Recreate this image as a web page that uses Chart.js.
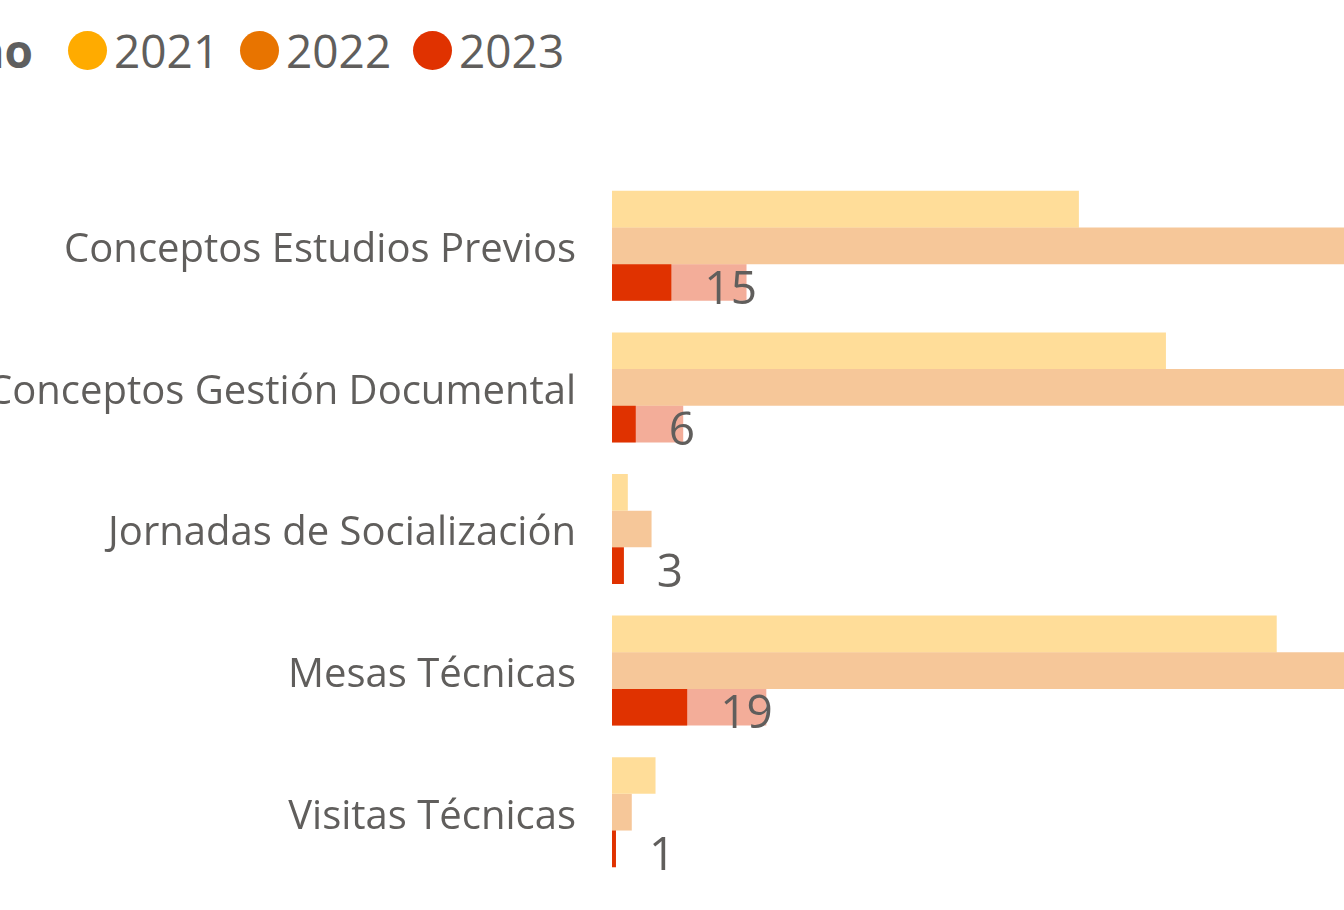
<!DOCTYPE html>
<html>
<head>
<meta charset="utf-8">
<script src="https://cdn.jsdelivr.net/npm/chart.js@4"></script>
<style>
  html, body { margin: 0; padding: 0; background: #fff; overflow: hidden; }
  body { width: 1344px; height: 910px; position: relative; font-family: "Open Sans", sans-serif; color: #605E5C; }
  #leyenda { position: absolute; top: 20px; left: 0; height: 60px; width: 1344px; }
  #leyenda .titulo { position: absolute; left: -100px; width: 133px; text-align: right; font-weight: bold; font-size: 46px; line-height: 60px; color: #5f5f5f; }
  #leyenda .item { position: absolute; top: 0; display: flex; align-items: center; height: 60px; font-size: 46px; }
  #leyenda .dot { width: 39px; height: 39px; border-radius: 50%; margin-right: 7px; }
  #grafico { position: absolute; left: 0; top: 0; }
</style>
</head>
<body>
<div id="leyenda"><span class="titulo">Año</span></div>
<canvas id="grafico" width="1344" height="910"></canvas>
<script>
const categorias = [
  "Conceptos Estudios Previos",
  "Conceptos Gestión Documental",
  "Jornadas de Socialización",
  "Mesas Técnicas",
  "Visitas Técnicas"
];
const anios = ["2021", "2022", "2023"];
const colores = ["#FFAB00", "#E87400", "#E03200"];

const valores2021 = [118, 140, 4, 168, 11];
const valores2022 = [210, 205, 10, 230, 5];
const valores2023 = [34, 18, 3, 39, 1];
// parte resaltada de 2023 (la que lleva etiqueta)
const resaltado2023 = [15, 6, 3, 19, 1];

const ejeMax = 185;

function tenue(hex) {
  const r = parseInt(hex.slice(1, 3), 16);
  const g = parseInt(hex.slice(3, 5), 16);
  const b = parseInt(hex.slice(5, 7), 16);
  return `rgba(${r},${g},${b},0.4)`;
}

// leyenda html
const leyenda = document.getElementById("leyenda");
const posiciones = [68, 240, 413];
anios.forEach((a, i) => {
  const it = document.createElement("div");
  it.className = "item";
  it.style.left = posiciones[i] + "px";
  it.innerHTML = `<span class="dot" style="background:${colores[i]}"></span><span>${a}</span>`;
  leyenda.appendChild(it);
});

const etiquetas = {
  id: "etiquetas",
  afterDatasetsDraw(chart) {
    const meta = chart.getDatasetMeta(2);
    const ctx = chart.ctx;
    ctx.save();
    ctx.font = "46px 'Open Sans'";
    ctx.fillStyle = "#605E5C";
    ctx.textAlign = "left";
    ctx.textBaseline = "middle";
    meta.data.forEach((bar, i) => {
      ctx.fillText(resaltado2023[i], bar.x + 33, bar.y + 8);
    });
    ctx.restore();
  }
};

new Chart(document.getElementById("grafico"), {
  type: "bar",
  data: {
    labels: categorias,
    datasets: [
      { label: "2021", data: valores2021, backgroundColor: tenue(colores[0]), stack: "a" },
      { label: "2022", data: valores2022, backgroundColor: tenue(colores[1]), stack: "b" },
      // resaltado antes del total para que se dibuje encima
      { label: "2023 sel", data: resaltado2023, backgroundColor: colores[2], stack: "c" },
      { label: "2023", data: valores2023, backgroundColor: tenue(colores[2]), stack: "c" }
    ]
  },
  options: {
    indexAxis: "y",
    responsive: false,
    animation: false,
    layout: { padding: { top: 175, bottom: 27, left: 0, right: 0 } },
    datasets: { bar: { categoryPercentage: 0.777, barPercentage: 1 } },
    scales: {
      x: { display: false, stacked: false, min: 0, max: ejeMax },
      y: {
        grid: { display: false, drawTicks: false },
        border: { display: false },
        ticks: { color: "#605E5C", font: { family: "Open Sans", size: 40 }, padding: 36, labelOffset: 5 },
        afterFit(scale) {
          scale.width = 612;
          scale.paddingTop = 0;
          scale.paddingBottom = 0;
        }
      }
    },
    plugins: { legend: { display: false }, tooltip: { enabled: false } }
  },
  plugins: [etiquetas]
});
</script>
</body>
</html>
